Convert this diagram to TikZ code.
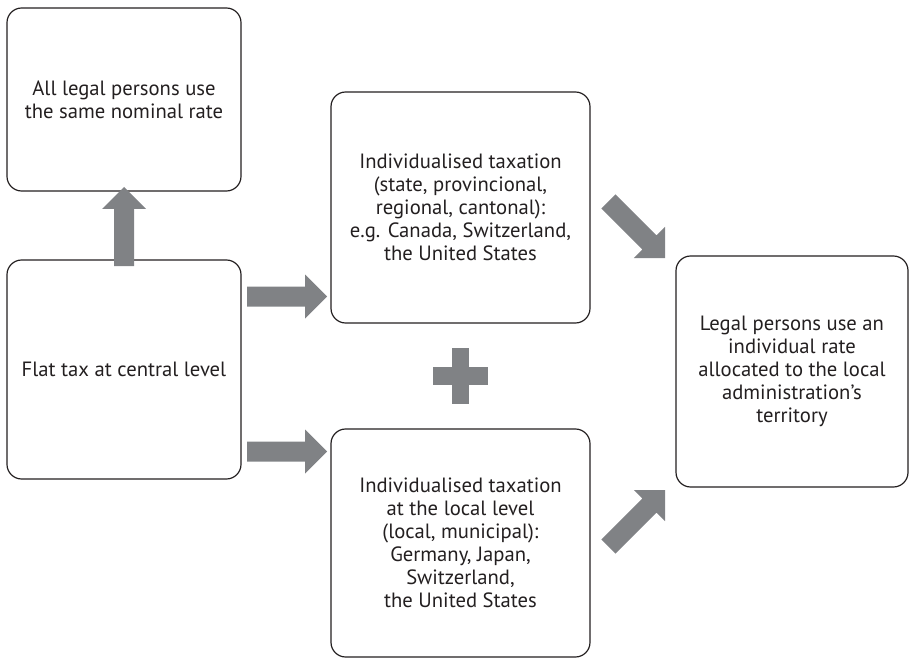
\documentclass[tikz,border=0pt]{standalone}
\usepackage{fontspec}
\setmainfont{PT Sans}
\usetikzlibrary{calc}
\definecolor{arrowgray}{HTML}{808285}
\definecolor{boxline}{HTML}{231F20}
\newcommand\blockarr[2]{%
  \coordinate (hb) at ($(#2)!16.5pt!(#1)$);
  \fill[arrowgray] ($(#1)!7.5pt!90:(#2)$) -- ($(hb)!7.5pt!90:(#2)$) -- ($(hb)!16.5pt!90:(#2)$) -- (#2)
    -- ($(hb)!16.5pt!-90:(#2)$) -- ($(hb)!7.5pt!-90:(#2)$) -- ($(#1)!7.5pt!-90:(#2)$) -- cycle;}
\tikzset{
  box/.style={draw=boxline, line width=0.9pt, rounded corners=11pt, inner sep=0pt,
    align=center, font=\fontsize{15.5}{17.3}\selectfont, text=boxline}
}
\begin{document}
\begin{tikzpicture}[x=0.75pt,y=-0.75pt]
\useasboundingbox (0,0) rectangle (909,659);
% boxes
\node[box, minimum width=175.5pt, minimum height=137.25pt] (A) at (124,99.5)
  {All legal persons use\\the same nominal rate};
\node[box, minimum width=175.5pt, minimum height=164.25pt] (B) at (124,369.5)
  {Flat tax at central level};
\node[box, minimum width=194.25pt, minimum height=173.25pt] (C) at (460.5,207.5)
  {Individualised taxation\\(state, provincional,\\regional, cantonal):\\e.g. Canada, Switzerland,\\the United States};
\node[box, minimum width=194.25pt, minimum height=171pt] (D) at (460.5,543)
  {Individualised taxation\\at the local level\\(local, municipal):\\Germany, Japan,\\Switzerland,\\the United States};
\node[box, minimum width=174pt, minimum height=173.25pt] (E) at (792,371.5)
  {Legal persons use an\\individual rate\\allocated to the local\\administration’s\\territory};
% plus sign
\coordinate (plus) at (460.5,376);
\fill[arrowgray] ([shift={(-27.5,-9)}]plus) rectangle ([shift={(27.5,9)}]plus);
\fill[arrowgray] ([shift={(-8.5,-28)}]plus) rectangle ([shift={(8.5,28)}]plus);
% arrows
\coordinate (u0) at (124,266);   \coordinate (u1) at (124,187);
\coordinate (r10) at (247,296.5); \coordinate (r11) at (327,296.5);
\coordinate (r20) at (247,451.5); \coordinate (r21) at (327,451.5);
\coordinate (d10) at (608.4,201.4); \coordinate (d11) at (665,258);
\coordinate (d20) at (608.4,546.6); \coordinate (d21) at (665,490);
\blockarr{u0}{u1}
\blockarr{r10}{r11}
\blockarr{r20}{r21}
\blockarr{d10}{d11}
\blockarr{d20}{d21}
\end{tikzpicture}
\end{document}
